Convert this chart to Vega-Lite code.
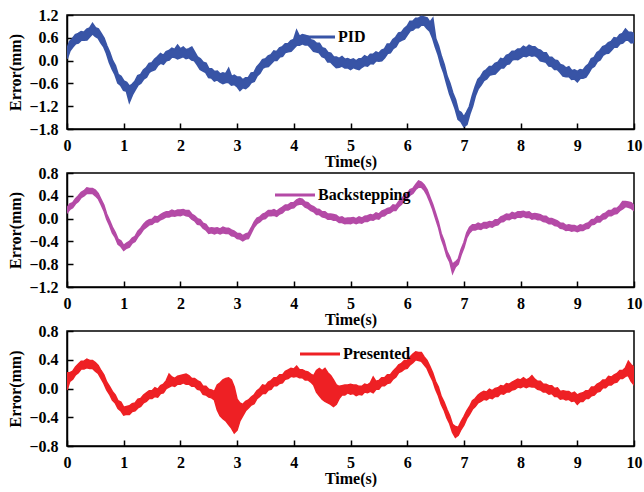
{
  "$schema": "https://vega.github.io/schema/vega-lite/v6.json",
  "padding": {"left": 7, "top": 6, "right": 0, "bottom": 0},
  "background": "white",
  "spacing": -6,
  "config": {
    "font": "Liberation Serif",
    "view": {"stroke": "black", "strokeWidth": 1.5},
    "axis": {
      "grid": false,
      "domainColor": "black",
      "domainWidth": 1.5,
      "tickColor": "black",
      "tickWidth": 1.5,
      "tickSize": -6,
      "labelOverlap": false,
      "labelFlush": false,
      "labelFont": "Liberation Serif",
      "labelFontWeight": "bold",
      "labelFontSize": 16,
      "labelColor": "black",
      "titleFont": "Liberation Serif",
      "titleFontWeight": "bold",
      "titleFontSize": 16,
      "titleColor": "black"
    },
    "axisX": {"labelPadding": 14, "titlePadding": 0},
    "axisY": {"labelPadding": 15, "titlePadding": 5, "labelOverlap": false},
    "legend": {
      "orient": "none",
      "title": null,
      "symbolType": "M-1,-0.075H1V0.075H-1Z",
      "symbolSize": 1600,
      "symbolStrokeWidth": 0,
      "symbolOpacity": 1,
      "labelFont": "Liberation Serif",
      "labelFontWeight": "bold",
      "labelFontSize": 16,
      "labelColor": "black",
      "padding": 0,
      "labelOffset": 3
    }
  },
  "datasets": {
    "pid": [
      {"t":0.00,"lo":0.05,"hi":0.30},{"t":0.05,"lo":0.26,"hi":0.50},{"t":0.10,"lo":0.36,"hi":0.58},{"t":0.15,"lo":0.45,"hi":0.68},{"t":0.20,"lo":0.47,"hi":0.71},{"t":0.25,"lo":0.54,"hi":0.76},{"t":0.30,"lo":0.54,"hi":0.74},{"t":0.35,"lo":0.55,"hi":0.82},{"t":0.40,"lo":0.63,"hi":0.85},{"t":0.45,"lo":0.71,"hi":0.97},
      {"t":0.50,"lo":0.64,"hi":0.86},{"t":0.55,"lo":0.60,"hi":0.83},{"t":0.60,"lo":0.47,"hi":0.71},{"t":0.65,"lo":0.37,"hi":0.59},{"t":0.70,"lo":0.19,"hi":0.39},{"t":0.75,"lo":-0.05,"hi":0.22},{"t":0.80,"lo":-0.22,"hi":0.00},{"t":0.85,"lo":-0.37,"hi":-0.13},{"t":0.90,"lo":-0.59,"hi":-0.37},{"t":0.95,"lo":-0.65,"hi":-0.42},
      {"t":1.00,"lo":-0.78,"hi":-0.54},{"t":1.05,"lo":-0.80,"hi":-0.58},{"t":1.10,"lo":-1.08,"hi":-0.68},{"t":1.15,"lo":-0.90,"hi":-0.63},{"t":1.20,"lo":-0.77,"hi":-0.55},{"t":1.25,"lo":-0.64,"hi":-0.40},{"t":1.30,"lo":-0.59,"hi":-0.37},{"t":1.35,"lo":-0.48,"hi":-0.25},{"t":1.40,"lo":-0.43,"hi":-0.19},{"t":1.45,"lo":-0.30,"hi":-0.08},
      {"t":1.50,"lo":-0.26,"hi":-0.06},{"t":1.55,"lo":-0.23,"hi":0.04},{"t":1.60,"lo":-0.12,"hi":0.10},{"t":1.65,"lo":-0.06,"hi":0.18},{"t":1.70,"lo":-0.09,"hi":0.13},{"t":1.75,"lo":0.00,"hi":0.23},{"t":1.80,"lo":0.02,"hi":0.26},{"t":1.85,"lo":0.10,"hi":0.32},{"t":1.90,"lo":0.09,"hi":0.29},{"t":1.95,"lo":0.05,"hi":0.40},
      {"t":2.00,"lo":0.08,"hi":0.30},{"t":2.05,"lo":0.11,"hi":0.35},{"t":2.10,"lo":0.06,"hi":0.28},{"t":2.15,"lo":0.08,"hi":0.31},{"t":2.20,"lo":0.02,"hi":0.35},{"t":2.25,"lo":0.00,"hi":0.22},{"t":2.30,"lo":-0.11,"hi":0.09},{"t":2.35,"lo":-0.23,"hi":0.04},{"t":2.40,"lo":-0.27,"hi":-0.05},{"t":2.45,"lo":-0.31,"hi":-0.07},
      {"t":2.50,"lo":-0.44,"hi":-0.22},{"t":2.55,"lo":-0.45,"hi":-0.22},{"t":2.60,"lo":-0.53,"hi":-0.29},{"t":2.65,"lo":-0.50,"hi":-0.28},{"t":2.70,"lo":-0.56,"hi":-0.36},{"t":2.75,"lo":-0.60,"hi":-0.33},{"t":2.80,"lo":-0.57,"hi":-0.35},{"t":2.85,"lo":-0.57,"hi":-0.22},{"t":2.90,"lo":-0.64,"hi":-0.42},{"t":2.95,"lo":-0.62,"hi":-0.39},
      {"t":3.00,"lo":-0.68,"hi":-0.44},{"t":3.05,"lo":-0.78,"hi":-0.44},{"t":3.10,"lo":-0.71,"hi":-0.51},{"t":3.15,"lo":-0.73,"hi":-0.46},{"t":3.20,"lo":-0.67,"hi":-0.45},{"t":3.25,"lo":-0.57,"hi":-0.33},{"t":3.30,"lo":-0.54,"hi":-0.32},{"t":3.35,"lo":-0.40,"hi":-0.17},{"t":3.40,"lo":-0.33,"hi":-0.09},{"t":3.45,"lo":-0.20,"hi":0.02},
      {"t":3.50,"lo":-0.16,"hi":0.04},{"t":3.55,"lo":-0.15,"hi":0.12},{"t":3.60,"lo":-0.07,"hi":0.15},{"t":3.65,"lo":0.01,"hi":0.25},{"t":3.70,"lo":0.01,"hi":0.23},{"t":3.75,"lo":0.10,"hi":0.33},{"t":3.80,"lo":0.12,"hi":0.36},{"t":3.85,"lo":0.22,"hi":0.44},{"t":3.90,"lo":0.24,"hi":0.44},{"t":3.95,"lo":0.25,"hi":0.52},
      {"t":4.00,"lo":0.33,"hi":0.55},{"t":4.05,"lo":0.41,"hi":0.78},{"t":4.10,"lo":0.41,"hi":0.63},{"t":4.15,"lo":0.45,"hi":0.68},{"t":4.20,"lo":0.42,"hi":0.66},{"t":4.25,"lo":0.42,"hi":0.64},{"t":4.30,"lo":0.34,"hi":0.54},{"t":4.35,"lo":0.25,"hi":0.52},{"t":4.40,"lo":0.23,"hi":0.45},{"t":4.45,"lo":0.21,"hi":0.45},
      {"t":4.50,"lo":0.11,"hi":0.33},{"t":4.55,"lo":0.08,"hi":0.31},{"t":4.60,"lo":-0.03,"hi":0.21},{"t":4.65,"lo":-0.03,"hi":0.19},{"t":4.70,"lo":-0.11,"hi":0.09},{"t":4.75,"lo":-0.18,"hi":0.09},{"t":4.80,"lo":-0.17,"hi":0.05},{"t":4.85,"lo":-0.14,"hi":0.10},{"t":4.90,"lo":-0.19,"hi":0.03},{"t":4.95,"lo":-0.18,"hi":0.05},
      {"t":5.00,"lo":-0.23,"hi":0.01},{"t":5.05,"lo":-0.18,"hi":0.04},{"t":5.10,"lo":-0.21,"hi":-0.01},{"t":5.15,"lo":-0.23,"hi":0.04},{"t":5.20,"lo":-0.17,"hi":0.05},{"t":5.25,"lo":-0.12,"hi":0.12},{"t":5.30,"lo":-0.14,"hi":0.08},{"t":5.35,"lo":-0.07,"hi":0.16},{"t":5.40,"lo":-0.08,"hi":0.16},{"t":5.45,"lo":0.00,"hi":0.22},
      {"t":5.50,"lo":-0.01,"hi":0.19},{"t":5.55,"lo":0.00,"hi":0.27},{"t":5.60,"lo":0.08,"hi":0.30},{"t":5.65,"lo":0.19,"hi":0.43},{"t":5.70,"lo":0.21,"hi":0.43},{"t":5.75,"lo":0.32,"hi":0.55},{"t":5.80,"lo":0.37,"hi":0.61},{"t":5.85,"lo":0.50,"hi":0.72},{"t":5.90,"lo":0.54,"hi":0.74},{"t":5.95,"lo":0.57,"hi":0.84},
      {"t":6.00,"lo":0.68,"hi":0.90},{"t":6.05,"lo":0.79,"hi":1.03},{"t":6.10,"lo":0.81,"hi":1.03},{"t":6.15,"lo":0.88,"hi":1.11},{"t":6.20,"lo":0.87,"hi":1.11},{"t":6.25,"lo":0.94,"hi":1.16},{"t":6.30,"lo":0.94,"hi":1.14},{"t":6.35,"lo":0.85,"hi":1.12},{"t":6.40,"lo":0.78,"hi":1.00},{"t":6.45,"lo":0.60,"hi":1.10},
      {"t":6.50,"lo":0.36,"hi":0.58},{"t":6.55,"lo":0.15,"hi":0.38},{"t":6.60,"lo":-0.13,"hi":0.11},{"t":6.65,"lo":-0.33,"hi":-0.11},{"t":6.70,"lo":-0.61,"hi":-0.41},{"t":6.75,"lo":-0.87,"hi":-0.60},{"t":6.80,"lo":-1.07,"hi":-0.85},{"t":6.85,"lo":-1.27,"hi":-1.03},{"t":6.90,"lo":-1.54,"hi":-1.32},{"t":6.95,"lo":-1.60,"hi":-1.37},
      {"t":7.00,"lo":-1.73,"hi":-1.49},{"t":7.05,"lo":-1.68,"hi":-1.36},{"t":7.10,"lo":-1.41,"hi":-1.21},{"t":7.15,"lo":-1.20,"hi":-0.93},{"t":7.20,"lo":-0.92,"hi":-0.70},{"t":7.25,"lo":-0.74,"hi":-0.50},{"t":7.30,"lo":-0.64,"hi":-0.42},{"t":7.35,"lo":-0.52,"hi":-0.29},{"t":7.40,"lo":-0.48,"hi":-0.24},{"t":7.45,"lo":-0.38,"hi":-0.16},
      {"t":7.50,"lo":-0.36,"hi":-0.16},{"t":7.55,"lo":-0.35,"hi":-0.08},{"t":7.60,"lo":-0.27,"hi":-0.05},{"t":7.65,"lo":-0.19,"hi":0.05},{"t":7.70,"lo":-0.19,"hi":0.03},{"t":7.75,"lo":-0.10,"hi":0.13},{"t":7.80,"lo":-0.08,"hi":0.16},{"t":7.85,"lo":0.02,"hi":0.24},{"t":7.90,"lo":0.04,"hi":0.24},{"t":7.95,"lo":0.03,"hi":0.30},
      {"t":8.00,"lo":0.08,"hi":0.30},{"t":8.05,"lo":0.13,"hi":0.37},{"t":8.10,"lo":0.11,"hi":0.33},{"t":8.15,"lo":0.15,"hi":0.40},{"t":8.20,"lo":0.12,"hi":0.36},{"t":8.25,"lo":0.14,"hi":0.36},{"t":8.30,"lo":0.09,"hi":0.29},{"t":8.35,"lo":0.00,"hi":0.27},{"t":8.40,"lo":-0.02,"hi":0.20},{"t":8.45,"lo":-0.04,"hi":0.20},
      {"t":8.50,"lo":-0.14,"hi":0.08},{"t":8.55,"lo":-0.15,"hi":0.08},{"t":8.60,"lo":-0.23,"hi":0.01},{"t":8.65,"lo":-0.23,"hi":-0.01},{"t":8.70,"lo":-0.31,"hi":-0.11},{"t":8.75,"lo":-0.40,"hi":-0.13},{"t":8.80,"lo":-0.42,"hi":-0.20},{"t":8.85,"lo":-0.41,"hi":-0.17},{"t":8.90,"lo":-0.49,"hi":-0.27},{"t":8.95,"lo":-0.48,"hi":-0.25},
      {"t":9.00,"lo":-0.55,"hi":-0.29},{"t":9.05,"lo":-0.46,"hi":-0.24},{"t":9.10,"lo":-0.46,"hi":-0.26},{"t":9.15,"lo":-0.43,"hi":-0.16},{"t":9.20,"lo":-0.32,"hi":-0.10},{"t":9.25,"lo":-0.19,"hi":0.05},{"t":9.30,"lo":-0.14,"hi":0.08},{"t":9.35,"lo":-0.02,"hi":0.21},{"t":9.40,"lo":0.02,"hi":0.26},{"t":9.45,"lo":0.14,"hi":0.36},
      {"t":9.50,"lo":0.19,"hi":0.39},{"t":9.55,"lo":0.20,"hi":0.47},{"t":9.60,"lo":0.28,"hi":0.50},{"t":9.65,"lo":0.36,"hi":0.60},{"t":9.70,"lo":0.36,"hi":0.58},{"t":9.75,"lo":0.45,"hi":0.68},{"t":9.80,"lo":0.47,"hi":0.71},{"t":9.85,"lo":0.54,"hi":0.82},{"t":9.90,"lo":0.54,"hi":0.74},{"t":9.95,"lo":0.47,"hi":0.74},
      {"t":10.00,"lo":0.48,"hi":0.70}
    ],
    "back": [
      {"t":0.00,"lo":0.10,"hi":0.19},{"t":0.05,"lo":0.16,"hi":0.26},{"t":0.10,"lo":0.19,"hi":0.28},{"t":0.15,"lo":0.26,"hi":0.35},{"t":0.20,"lo":0.30,"hi":0.40},{"t":0.25,"lo":0.37,"hi":0.46},{"t":0.30,"lo":0.40,"hi":0.49},{"t":0.35,"lo":0.44,"hi":0.54},{"t":0.40,"lo":0.44,"hi":0.53},{"t":0.45,"lo":0.44,"hi":0.53},
      {"t":0.50,"lo":0.40,"hi":0.50},{"t":0.55,"lo":0.35,"hi":0.44},{"t":0.60,"lo":0.25,"hi":0.34},{"t":0.65,"lo":0.14,"hi":0.24},{"t":0.70,"lo":-0.01,"hi":0.08},{"t":0.75,"lo":-0.12,"hi":-0.03},{"t":0.80,"lo":-0.25,"hi":-0.15},{"t":0.85,"lo":-0.33,"hi":-0.24},{"t":0.90,"lo":-0.45,"hi":-0.36},{"t":0.95,"lo":-0.49,"hi":-0.39},
      {"t":1.00,"lo":-0.56,"hi":-0.47},{"t":1.05,"lo":-0.52,"hi":-0.43},{"t":1.10,"lo":-0.50,"hi":-0.40},{"t":1.15,"lo":-0.43,"hi":-0.34},{"t":1.20,"lo":-0.40,"hi":-0.31},{"t":1.25,"lo":-0.32,"hi":-0.22},{"t":1.30,"lo":-0.26,"hi":-0.17},{"t":1.35,"lo":-0.19,"hi":-0.10},{"t":1.40,"lo":-0.15,"hi":-0.05},{"t":1.45,"lo":-0.11,"hi":-0.02},
      {"t":1.50,"lo":-0.10,"hi":-0.01},{"t":1.55,"lo":-0.06,"hi":0.04},{"t":1.60,"lo":-0.06,"hi":0.03},{"t":1.65,"lo":-0.02,"hi":0.07},{"t":1.70,"lo":0.00,"hi":0.10},{"t":1.75,"lo":0.03,"hi":0.12},{"t":1.80,"lo":0.03,"hi":0.12},{"t":1.85,"lo":0.05,"hi":0.15},{"t":1.90,"lo":0.04,"hi":0.13},{"t":1.95,"lo":0.06,"hi":0.15},
      {"t":2.00,"lo":0.05,"hi":0.15},{"t":2.05,"lo":0.07,"hi":0.16},{"t":2.10,"lo":0.05,"hi":0.14},{"t":2.15,"lo":0.04,"hi":0.14},{"t":2.20,"lo":-0.01,"hi":0.08},{"t":2.25,"lo":-0.04,"hi":0.05},{"t":2.30,"lo":-0.10,"hi":0.00},{"t":2.35,"lo":-0.11,"hi":-0.02},{"t":2.40,"lo":-0.17,"hi":-0.08},{"t":2.45,"lo":-0.20,"hi":-0.10},
      {"t":2.50,"lo":-0.26,"hi":-0.17},{"t":2.55,"lo":-0.25,"hi":-0.16},{"t":2.60,"lo":-0.27,"hi":-0.17},{"t":2.65,"lo":-0.25,"hi":-0.16},{"t":2.70,"lo":-0.27,"hi":-0.18},{"t":2.75,"lo":-0.25,"hi":-0.15},{"t":2.80,"lo":-0.26,"hi":-0.17},{"t":2.85,"lo":-0.26,"hi":-0.17},{"t":2.90,"lo":-0.30,"hi":-0.20},{"t":2.95,"lo":-0.31,"hi":-0.22},
      {"t":3.00,"lo":-0.35,"hi":-0.26},{"t":3.05,"lo":-0.36,"hi":-0.26},{"t":3.10,"lo":-0.39,"hi":-0.30},{"t":3.15,"lo":-0.36,"hi":-0.27},{"t":3.20,"lo":-0.35,"hi":-0.25},{"t":3.25,"lo":-0.25,"hi":-0.16},{"t":3.30,"lo":-0.15,"hi":-0.06},{"t":3.35,"lo":-0.09,"hi":0.01},{"t":3.40,"lo":-0.06,"hi":0.03},{"t":3.45,"lo":-0.01,"hi":0.08},
      {"t":3.50,"lo":0.00,"hi":0.10},{"t":3.55,"lo":0.05,"hi":0.14},{"t":3.60,"lo":0.05,"hi":0.14},{"t":3.65,"lo":0.06,"hi":0.16},{"t":3.70,"lo":0.04,"hi":0.13},{"t":3.75,"lo":0.08,"hi":0.17},{"t":3.80,"lo":0.10,"hi":0.20},{"t":3.85,"lo":0.15,"hi":0.24},{"t":3.90,"lo":0.15,"hi":0.24},{"t":3.95,"lo":0.18,"hi":0.28},
      {"t":4.00,"lo":0.19,"hi":0.28},{"t":4.05,"lo":0.24,"hi":0.33},{"t":4.10,"lo":0.25,"hi":0.35},{"t":4.15,"lo":0.25,"hi":0.34},{"t":4.20,"lo":0.20,"hi":0.29},{"t":4.25,"lo":0.18,"hi":0.28},{"t":4.30,"lo":0.14,"hi":0.23},{"t":4.35,"lo":0.12,"hi":0.21},{"t":4.40,"lo":0.07,"hi":0.17},{"t":4.45,"lo":0.07,"hi":0.16},
      {"t":4.50,"lo":0.03,"hi":0.12},{"t":4.55,"lo":0.02,"hi":0.12},{"t":4.60,"lo":-0.01,"hi":0.08},{"t":4.65,"lo":-0.01,"hi":0.08},{"t":4.70,"lo":-0.03,"hi":0.07},{"t":4.75,"lo":-0.03,"hi":0.06},{"t":4.80,"lo":-0.07,"hi":0.02},{"t":4.85,"lo":-0.07,"hi":0.03},{"t":4.90,"lo":-0.09,"hi":0.00},{"t":4.95,"lo":-0.08,"hi":0.01},
      {"t":5.00,"lo":-0.09,"hi":0.01},{"t":5.05,"lo":-0.07,"hi":0.02},{"t":5.10,"lo":-0.09,"hi":0.00},{"t":5.15,"lo":-0.07,"hi":0.03},{"t":5.20,"lo":-0.08,"hi":0.01},{"t":5.25,"lo":-0.05,"hi":0.04},{"t":5.30,"lo":-0.05,"hi":0.05},{"t":5.35,"lo":-0.02,"hi":0.07},{"t":5.40,"lo":-0.03,"hi":0.06},{"t":5.45,"lo":0.00,"hi":0.10},
      {"t":5.50,"lo":-0.01,"hi":0.08},{"t":5.55,"lo":0.04,"hi":0.13},{"t":5.60,"lo":0.05,"hi":0.15},{"t":5.65,"lo":0.09,"hi":0.18},{"t":5.70,"lo":0.10,"hi":0.19},{"t":5.75,"lo":0.14,"hi":0.24},{"t":5.80,"lo":0.14,"hi":0.23},{"t":5.85,"lo":0.21,"hi":0.30},{"t":5.90,"lo":0.25,"hi":0.35},{"t":5.95,"lo":0.32,"hi":0.41},
      {"t":6.00,"lo":0.35,"hi":0.44},{"t":6.05,"lo":0.41,"hi":0.51},{"t":6.10,"lo":0.44,"hi":0.53},{"t":6.15,"lo":0.51,"hi":0.60},{"t":6.20,"lo":0.55,"hi":0.66},{"t":6.25,"lo":0.55,"hi":0.64},{"t":6.30,"lo":0.50,"hi":0.59},{"t":6.35,"lo":0.41,"hi":0.51},{"t":6.40,"lo":0.29,"hi":0.38},{"t":6.45,"lo":0.16,"hi":0.25},
      {"t":6.50,"lo":0.00,"hi":0.10},{"t":6.55,"lo":-0.15,"hi":-0.06},{"t":6.60,"lo":-0.35,"hi":-0.26},{"t":6.65,"lo":-0.49,"hi":-0.39},{"t":6.70,"lo":-0.66,"hi":-0.57},{"t":6.75,"lo":-0.76,"hi":-0.67},{"t":6.80,"lo":-0.96,"hi":-0.80},{"t":6.85,"lo":-0.85,"hi":-0.76},{"t":6.90,"lo":-0.80,"hi":-0.71},{"t":6.95,"lo":-0.64,"hi":-0.54},
      {"t":7.00,"lo":-0.51,"hi":-0.42},{"t":7.05,"lo":-0.34,"hi":-0.25},{"t":7.10,"lo":-0.25,"hi":-0.15},{"t":7.15,"lo":-0.20,"hi":-0.11},{"t":7.20,"lo":-0.20,"hi":-0.11},{"t":7.25,"lo":-0.18,"hi":-0.08},{"t":7.30,"lo":-0.19,"hi":-0.10},{"t":7.35,"lo":-0.16,"hi":-0.07},{"t":7.40,"lo":-0.17,"hi":-0.07},{"t":7.45,"lo":-0.14,"hi":-0.05},
      {"t":7.50,"lo":-0.15,"hi":-0.06},{"t":7.55,"lo":-0.12,"hi":-0.02},{"t":7.60,"lo":-0.11,"hi":-0.02},{"t":7.65,"lo":-0.06,"hi":0.03},{"t":7.70,"lo":-0.05,"hi":0.05},{"t":7.75,"lo":-0.01,"hi":0.08},{"t":7.80,"lo":-0.02,"hi":0.07},{"t":7.85,"lo":0.01,"hi":0.11},{"t":7.90,"lo":0.00,"hi":0.09},{"t":7.95,"lo":0.03,"hi":0.12},
      {"t":8.00,"lo":0.02,"hi":0.12},{"t":8.05,"lo":0.04,"hi":0.13},{"t":8.10,"lo":0.02,"hi":0.11},{"t":8.15,"lo":0.02,"hi":0.12},{"t":8.20,"lo":-0.01,"hi":0.08},{"t":8.25,"lo":0.00,"hi":0.09},{"t":8.30,"lo":-0.02,"hi":0.08},{"t":8.35,"lo":-0.02,"hi":0.07},{"t":8.40,"lo":-0.05,"hi":0.04},{"t":8.45,"lo":-0.06,"hi":0.04},
      {"t":8.50,"lo":-0.09,"hi":0.00},{"t":8.55,"lo":-0.09,"hi":0.00},{"t":8.60,"lo":-0.12,"hi":-0.02},{"t":8.65,"lo":-0.13,"hi":-0.04},{"t":8.70,"lo":-0.17,"hi":-0.08},{"t":8.75,"lo":-0.18,"hi":-0.08},{"t":8.80,"lo":-0.21,"hi":-0.12},{"t":8.85,"lo":-0.20,"hi":-0.11},{"t":8.90,"lo":-0.22,"hi":-0.12},{"t":8.95,"lo":-0.21,"hi":-0.12},
      {"t":9.00,"lo":-0.23,"hi":-0.14},{"t":9.05,"lo":-0.21,"hi":-0.11},{"t":9.10,"lo":-0.21,"hi":-0.12},{"t":9.15,"lo":-0.18,"hi":-0.09},{"t":9.20,"lo":-0.17,"hi":-0.07},{"t":9.25,"lo":-0.11,"hi":-0.02},{"t":9.30,"lo":-0.10,"hi":-0.01},{"t":9.35,"lo":-0.06,"hi":0.04},{"t":9.40,"lo":-0.06,"hi":0.03},{"t":9.45,"lo":-0.01,"hi":0.08},
      {"t":9.50,"lo":0.00,"hi":0.10},{"t":9.55,"lo":0.05,"hi":0.14},{"t":9.60,"lo":0.05,"hi":0.14},{"t":9.65,"lo":0.08,"hi":0.18},{"t":9.70,"lo":0.09,"hi":0.18},{"t":9.75,"lo":0.14,"hi":0.23},{"t":9.80,"lo":0.17,"hi":0.30},{"t":9.85,"lo":0.21,"hi":0.30},{"t":9.90,"lo":0.20,"hi":0.29},{"t":9.95,"lo":0.18,"hi":0.28},
      {"t":10.00,"lo":0.14,"hi":0.23}
    ],
    "pres": [
      {"t":0.00,"lo":-0.02,"hi":0.22},{"t":0.05,"lo":0.10,"hi":0.22},{"t":0.10,"lo":0.13,"hi":0.24},{"t":0.15,"lo":0.19,"hi":0.30},{"t":0.20,"lo":0.22,"hi":0.34},{"t":0.25,"lo":0.27,"hi":0.38},{"t":0.30,"lo":0.27,"hi":0.38},{"t":0.35,"lo":0.29,"hi":0.41},{"t":0.40,"lo":0.28,"hi":0.39},{"t":0.45,"lo":0.28,"hi":0.39},
      {"t":0.50,"lo":0.24,"hi":0.36},{"t":0.55,"lo":0.21,"hi":0.32},{"t":0.60,"lo":0.14,"hi":0.25},{"t":0.65,"lo":0.07,"hi":0.19},{"t":0.70,"lo":-0.02,"hi":0.09},{"t":0.75,"lo":-0.08,"hi":0.03},{"t":0.80,"lo":-0.16,"hi":-0.04},{"t":0.85,"lo":-0.20,"hi":-0.09},{"t":0.90,"lo":-0.28,"hi":-0.17},{"t":0.95,"lo":-0.31,"hi":-0.19},
      {"t":1.00,"lo":-0.37,"hi":-0.26},{"t":1.05,"lo":-0.36,"hi":-0.25},{"t":1.10,"lo":-0.36,"hi":-0.24},{"t":1.15,"lo":-0.32,"hi":-0.21},{"t":1.20,"lo":-0.31,"hi":-0.20},{"t":1.25,"lo":-0.27,"hi":-0.15},{"t":1.30,"lo":-0.25,"hi":-0.14},{"t":1.35,"lo":-0.20,"hi":-0.09},{"t":1.40,"lo":-0.18,"hi":-0.06},{"t":1.45,"lo":-0.14,"hi":-0.03},
      {"t":1.50,"lo":-0.14,"hi":-0.03},{"t":1.55,"lo":-0.11,"hi":0.01},{"t":1.60,"lo":-0.12,"hi":-0.01},{"t":1.65,"lo":-0.07,"hi":0.04},{"t":1.70,"lo":-0.06,"hi":0.06},{"t":1.75,"lo":0.00,"hi":0.11},{"t":1.80,"lo":0.02,"hi":0.20},{"t":1.85,"lo":0.04,"hi":0.16},{"t":1.90,"lo":0.03,"hi":0.14},{"t":1.95,"lo":0.06,"hi":0.17},
      {"t":2.00,"lo":0.06,"hi":0.18},{"t":2.05,"lo":0.08,"hi":0.19},{"t":2.10,"lo":0.06,"hi":0.20},{"t":2.15,"lo":0.06,"hi":0.18},{"t":2.20,"lo":0.03,"hi":0.14},{"t":2.25,"lo":0.03,"hi":0.14},{"t":2.30,"lo":-0.01,"hi":0.11},{"t":2.35,"lo":-0.02,"hi":0.09},{"t":2.40,"lo":-0.08,"hi":0.03},{"t":2.45,"lo":-0.09,"hi":0.03},
      {"t":2.50,"lo":-0.12,"hi":-0.01},{"t":2.55,"lo":-0.13,"hi":-0.02},{"t":2.60,"lo":-0.16,"hi":-0.04},{"t":2.65,"lo":-0.30,"hi":0.05},{"t":2.70,"lo":-0.38,"hi":0.08},{"t":2.75,"lo":-0.42,"hi":0.12},{"t":2.80,"lo":-0.45,"hi":0.14},{"t":2.85,"lo":-0.50,"hi":0.15},{"t":2.90,"lo":-0.55,"hi":0.12},{"t":2.95,"lo":-0.62,"hi":0.02},
      {"t":3.00,"lo":-0.58,"hi":-0.15},{"t":3.05,"lo":-0.45,"hi":-0.20},{"t":3.10,"lo":-0.38,"hi":-0.22},{"t":3.15,"lo":-0.31,"hi":-0.18},{"t":3.20,"lo":-0.27,"hi":-0.16},{"t":3.25,"lo":-0.23,"hi":-0.12},{"t":3.30,"lo":-0.21,"hi":-0.09},{"t":3.35,"lo":-0.14,"hi":-0.03},{"t":3.40,"lo":-0.11,"hi":0.00},{"t":3.45,"lo":-0.07,"hi":0.05},
      {"t":3.50,"lo":-0.07,"hi":0.04},{"t":3.55,"lo":-0.02,"hi":0.09},{"t":3.60,"lo":-0.01,"hi":0.11},{"t":3.65,"lo":0.04,"hi":0.15},{"t":3.70,"lo":0.04,"hi":0.15},{"t":3.75,"lo":0.07,"hi":0.19},{"t":3.80,"lo":0.08,"hi":0.19},{"t":3.85,"lo":0.13,"hi":0.24},{"t":3.90,"lo":0.14,"hi":0.26},{"t":3.95,"lo":0.17,"hi":0.28},
      {"t":4.00,"lo":0.16,"hi":0.27},{"t":4.05,"lo":0.17,"hi":0.31},{"t":4.10,"lo":0.15,"hi":0.26},{"t":4.15,"lo":0.15,"hi":0.26},{"t":4.20,"lo":0.12,"hi":0.24},{"t":4.25,"lo":0.12,"hi":0.23},{"t":4.30,"lo":0.09,"hi":0.20},{"t":4.35,"lo":0.05,"hi":0.18},{"t":4.40,"lo":-0.05,"hi":0.25},{"t":4.45,"lo":-0.10,"hi":0.28},
      {"t":4.50,"lo":-0.15,"hi":0.25},{"t":4.55,"lo":-0.18,"hi":0.28},{"t":4.60,"lo":-0.20,"hi":0.22},{"t":4.65,"lo":-0.22,"hi":0.18},{"t":4.70,"lo":-0.25,"hi":0.12},{"t":4.75,"lo":-0.22,"hi":0.05},{"t":4.80,"lo":-0.14,"hi":0.03},{"t":4.85,"lo":-0.09,"hi":0.04},{"t":4.90,"lo":-0.09,"hi":0.05},{"t":4.95,"lo":-0.06,"hi":0.05},
      {"t":5.00,"lo":-0.08,"hi":0.06},{"t":5.05,"lo":-0.07,"hi":0.05},{"t":5.10,"lo":-0.10,"hi":0.05},{"t":5.15,"lo":-0.08,"hi":0.03},{"t":5.20,"lo":-0.09,"hi":0.03},{"t":5.25,"lo":-0.05,"hi":0.06},{"t":5.30,"lo":-0.06,"hi":0.05},{"t":5.35,"lo":-0.04,"hi":0.08},{"t":5.40,"lo":-0.06,"hi":0.16},{"t":5.45,"lo":-0.01,"hi":0.10},
      {"t":5.50,"lo":-0.01,"hi":0.11},{"t":5.55,"lo":0.04,"hi":0.15},{"t":5.60,"lo":0.04,"hi":0.15},{"t":5.65,"lo":0.07,"hi":0.19},{"t":5.70,"lo":0.08,"hi":0.19},{"t":5.75,"lo":0.13,"hi":0.24},{"t":5.80,"lo":0.16,"hi":0.28},{"t":5.85,"lo":0.22,"hi":0.33},{"t":5.90,"lo":0.24,"hi":0.35},{"t":5.95,"lo":0.27,"hi":0.39},
      {"t":6.00,"lo":0.28,"hi":0.39},{"t":6.05,"lo":0.33,"hi":0.44},{"t":6.10,"lo":0.36,"hi":0.48},{"t":6.15,"lo":0.40,"hi":0.51},{"t":6.20,"lo":0.39,"hi":0.50},{"t":6.25,"lo":0.38,"hi":0.50},{"t":6.30,"lo":0.33,"hi":0.44},{"t":6.35,"lo":0.28,"hi":0.39},{"t":6.40,"lo":0.19,"hi":0.31},{"t":6.45,"lo":0.11,"hi":0.22},
      {"t":6.50,"lo":-0.01,"hi":0.10},{"t":6.55,"lo":-0.10,"hi":0.02},{"t":6.60,"lo":-0.22,"hi":-0.11},{"t":6.65,"lo":-0.30,"hi":-0.19},{"t":6.70,"lo":-0.41,"hi":-0.29},{"t":6.75,"lo":-0.49,"hi":-0.38},{"t":6.80,"lo":-0.61,"hi":-0.50},{"t":6.85,"lo":-0.68,"hi":-0.53},{"t":6.90,"lo":-0.65,"hi":-0.54},{"t":6.95,"lo":-0.57,"hi":-0.46},
      {"t":7.00,"lo":-0.51,"hi":-0.39},{"t":7.05,"lo":-0.42,"hi":-0.31},{"t":7.10,"lo":-0.36,"hi":-0.25},{"t":7.15,"lo":-0.29,"hi":-0.17},{"t":7.20,"lo":-0.25,"hi":-0.14},{"t":7.25,"lo":-0.20,"hi":-0.09},{"t":7.30,"lo":-0.18,"hi":-0.06},{"t":7.35,"lo":-0.15,"hi":-0.04},{"t":7.40,"lo":-0.16,"hi":-0.05},{"t":7.45,"lo":-0.13,"hi":-0.01},
      {"t":7.50,"lo":-0.14,"hi":-0.03},{"t":7.55,"lo":-0.11,"hi":0.00},{"t":7.60,"lo":-0.11,"hi":0.01},{"t":7.65,"lo":-0.07,"hi":0.04},{"t":7.70,"lo":-0.08,"hi":0.03},{"t":7.75,"lo":-0.05,"hi":0.07},{"t":7.80,"lo":-0.05,"hi":0.06},{"t":7.85,"lo":-0.02,"hi":0.09},{"t":7.90,"lo":-0.01,"hi":0.11},{"t":7.95,"lo":0.02,"hi":0.13},
      {"t":8.00,"lo":0.01,"hi":0.12},{"t":8.05,"lo":0.03,"hi":0.15},{"t":8.10,"lo":0.01,"hi":0.12},{"t":8.15,"lo":0.03,"hi":0.14},{"t":8.20,"lo":0.02,"hi":0.18},{"t":8.25,"lo":0.02,"hi":0.13},{"t":8.30,"lo":-0.01,"hi":0.10},{"t":8.35,"lo":-0.02,"hi":0.10},{"t":8.40,"lo":-0.05,"hi":0.06},{"t":8.45,"lo":-0.05,"hi":0.06},
      {"t":8.50,"lo":-0.08,"hi":0.04},{"t":8.55,"lo":-0.07,"hi":0.04},{"t":8.60,"lo":-0.11,"hi":0.00},{"t":8.65,"lo":-0.11,"hi":0.01},{"t":8.70,"lo":-0.15,"hi":-0.04},{"t":8.75,"lo":-0.14,"hi":-0.03},{"t":8.80,"lo":-0.16,"hi":-0.04},{"t":8.85,"lo":-0.15,"hi":-0.04},{"t":8.90,"lo":-0.18,"hi":-0.07},{"t":8.95,"lo":-0.17,"hi":-0.05},
      {"t":9.00,"lo":-0.22,"hi":-0.09},{"t":9.05,"lo":-0.18,"hi":-0.07},{"t":9.10,"lo":-0.18,"hi":-0.06},{"t":9.15,"lo":-0.14,"hi":-0.03},{"t":9.20,"lo":-0.14,"hi":-0.03},{"t":9.25,"lo":-0.10,"hi":0.02},{"t":9.30,"lo":-0.09,"hi":0.02},{"t":9.35,"lo":-0.05,"hi":0.06},{"t":9.40,"lo":-0.04,"hi":0.08},{"t":9.45,"lo":0.01,"hi":0.12},
      {"t":9.50,"lo":0.01,"hi":0.12},{"t":9.55,"lo":0.05,"hi":0.17},{"t":9.60,"lo":0.05,"hi":0.16},{"t":9.65,"lo":0.08,"hi":0.19},{"t":9.70,"lo":0.09,"hi":0.21},{"t":9.75,"lo":0.14,"hi":0.25},{"t":9.80,"lo":0.14,"hi":0.25},{"t":9.85,"lo":0.17,"hi":0.29},{"t":9.90,"lo":0.18,"hi":0.38},{"t":9.95,"lo":0.10,"hi":0.33},
      {"t":10.00,"lo":0.05,"hi":0.30}
    ]
  },
  "resolve": {"scale": {"color": "independent"}, "legend": {"color": "independent"}},
  "vconcat": [
    {
      "width": 567, "height": 114,
      "data": {"name": "pid"},
      "mark": {"type": "area", "stroke": "#3854a6", "strokeWidth": 2, "opacity": 1, "clip": true},
      "encoding": {
        "x": {"field": "t", "type": "quantitative", "scale": {"domain": [0, 10], "nice": false}, "axis": {"values": [0,1,2,3,4,5,6,7,8,9,10], "format": "d", "title": "Time(s)", "labelOverlap": false}},
        "y": {"field": "lo", "type": "quantitative", "scale": {"domain": [-1.8, 1.2], "nice": false}, "axis": {"values": [-1.8,-1.2,-0.6,0,0.6,1.2], "format": ".1f", "title": "Error(mm)", "labelOverlap": false}},
        "y2": {"field": "hi"},
        "color": {"datum": "PID", "scale": {"range": ["#3854a6"]}, "legend": {"legendX": 228, "legendY": 2}}
      }
    },
    {
      "width": 567, "height": 114,
      "data": {"name": "back"},
      "mark": {"type": "area", "stroke": "#b44aa6", "strokeWidth": 1.5, "opacity": 1, "clip": true},
      "encoding": {
        "x": {"field": "t", "type": "quantitative", "scale": {"domain": [0, 10], "nice": false}, "axis": {"values": [0,1,2,3,4,5,6,7,8,9,10], "format": "d", "title": "Time(s)", "labelOverlap": false}},
        "y": {"field": "lo", "type": "quantitative", "scale": {"domain": [-1.2, 0.8], "nice": false}, "axis": {"values": [-1.2,-0.8,-0.4,0,0.4,0.8], "format": ".1f", "title": "Error(mm)", "labelOverlap": false}},
        "y2": {"field": "hi"},
        "color": {"datum": "Backstepping", "scale": {"range": ["#b44aa6"]}, "legend": {"legendX": 208, "legendY": 2}}
      }
    },
    {
      "width": 567, "height": 115,
      "data": {"name": "pres"},
      "mark": {"type": "area", "stroke": "#ee2024", "strokeWidth": 1.5, "opacity": 1, "clip": true},
      "encoding": {
        "x": {"field": "t", "type": "quantitative", "scale": {"domain": [0, 10], "nice": false}, "axis": {"values": [0,1,2,3,4,5,6,7,8,9,10], "format": "d", "title": "Time(s)", "labelOverlap": false}},
        "y": {"field": "lo", "type": "quantitative", "scale": {"domain": [-0.8, 0.8], "nice": false}, "axis": {"values": [-0.8,-0.4,0,0.4,0.8], "format": ".1f", "title": "Error(mm)", "labelOverlap": false}},
        "y2": {"field": "hi"},
        "color": {"datum": "Presented", "scale": {"range": ["#ee2024"]}, "legend": {"legendX": 233, "legendY": 3}}
      }
    }
  ]
}
